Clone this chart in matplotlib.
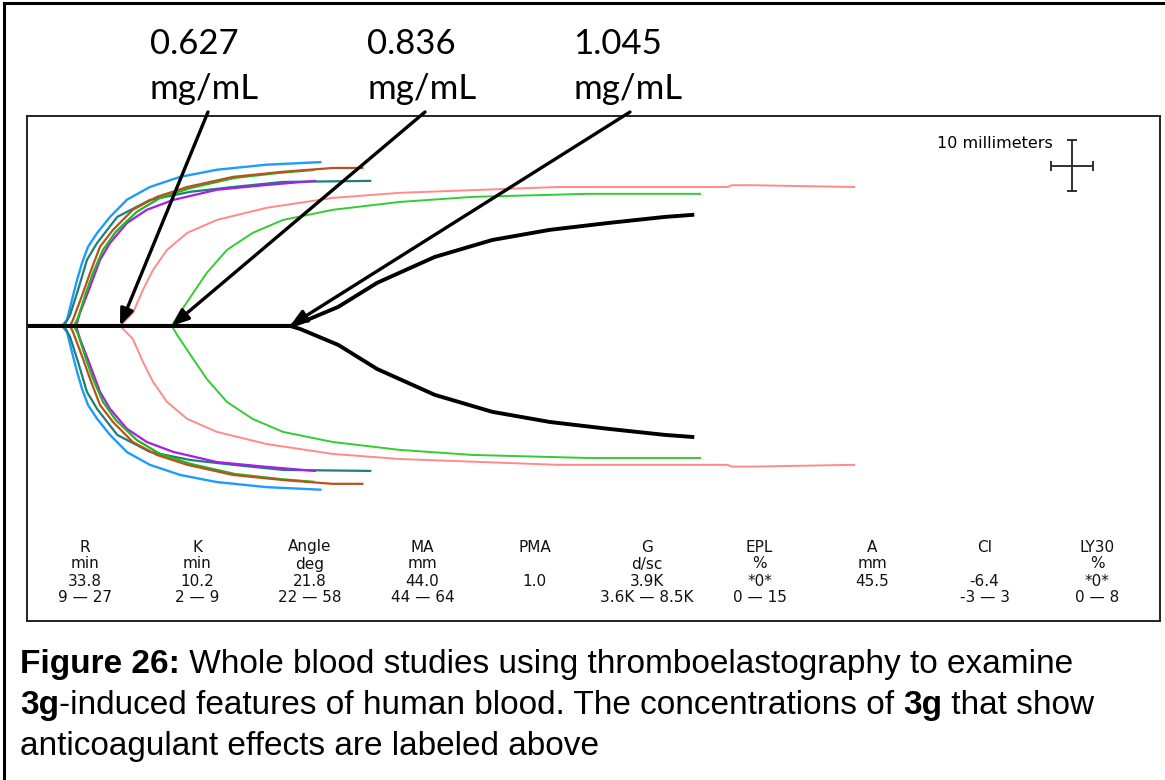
import matplotlib
matplotlib.use('Agg')
import matplotlib.pyplot as plt
from matplotlib.lines import Line2D
import numpy as np

blue_t = [0, 4.5, 5.14, 5.78, 6.43, 7.07, 7.84, 9.0, 10.67, 12.85, 15.8, 19.7, 24.4, 30.8, 37.7]
blue_a = [0, 0, 2.4, 10.3, 18.1, 24.8, 31.2, 36.6, 43.0, 49.8, 54.8, 58.8, 61.6, 63.6, 64.6]

brown_t = [0, 5.53, 5.91, 7.2, 8.1, 9.38, 11.05, 13.6, 16.7, 20.6, 26.5, 32.9, 39.3, 43.1]
brown_a = [0, 0, 2.4, 13.0, 20.9, 31.2, 37.9, 45.8, 50.9, 54.8, 58.8, 60.8, 62.3, 62.3]

green_t = [0, 6.04, 6.56, 7.58, 8.48, 9.77, 11.4, 14.1, 17.1, 21.0, 26.7, 32.5, 36.8]
green_a = [0, 0, 3.2, 13.0, 20.9, 30.0, 37.1, 45.0, 50.5, 54.4, 58.4, 60.4, 61.5]

purple_t = [0, 6.3, 6.81, 8.1, 9.38, 10.67, 12.85, 15.4, 18.8, 24.4, 30.8, 37.0]
purple_a = [0, 0, 5.1, 15.4, 26.0, 32.7, 40.6, 45.8, 49.7, 53.7, 55.6, 57.2]

teal_t = [0, 4.76, 5.53, 6.56, 7.7, 9.0, 11.6, 15.8, 21.0, 26.5, 32.9, 44.1]
teal_a = [0, 0, 4.3, 14.2, 26.0, 32.7, 43.0, 49.7, 52.9, 54.8, 56.8, 57.2]

# 0.627 mg/mL
pink_t = [0, 11.95, 13.6, 14.9, 16.2, 18.0, 20.6, 24.4, 30.8, 39.3, 47.9, 68.3, 90.0, 90.6, 93.0, 106.3]
pink_a = [0, 0, 5.1, 14.2, 22.1, 30.0, 36.7, 41.8, 46.6, 50.5, 52.5, 54.8, 54.8, 55.5, 55.5, 54.8]

# 0.836 mg/mL
lime_t = [0, 18.6, 19.3, 21.0, 23.1, 25.7, 29.0, 32.9, 39.3, 47.9, 57.3, 72.1, 86.5]
lime_a = [0, 0, 3.6, 11.4, 20.9, 30.0, 36.7, 41.8, 45.8, 48.9, 50.9, 52.1, 52.1]

# 1.045 mg/mL
black_t = [0, 33.8, 35.1, 40.0, 45.0, 52.4, 59.8, 67.2, 74.7, 82.0, 85.5]
black_a = [0, 0, 1.2, 7.5, 17.0, 27.2, 33.9, 37.9, 40.6, 43.0, 43.8]

conc_labels = ['0.627\nmg/mL', '0.836\nmg/mL', '1.045\nmg/mL']
conc_r = [11.95, 18.6, 33.8]

# parameter table
par_names = ['R', 'K', 'Angle', 'MA', 'PMA', 'G', 'EPL', 'A', 'CI', 'LY30']
par_units = ['min', 'min', 'deg', 'mm', '', 'd/sc', '%', 'mm', '', '%']
par_values = ['33.8', '10.2', '21.8', '44.0', '1.0', '3.9K', '*0*', '45.5', '-6.4', '*0*']
par_ranges = ['9 \u2014 27', '2 \u2014 9', '22 \u2014 58', '44 \u2014 64', '',
              '3.6K \u2014 8.5K', '0 \u2014 15', '', '-3 \u2014 3', '0 \u2014 8']

W, H = 1165, 780
fig = plt.figure(figsize=(W / 100, H / 100), dpi=100)
fig.patch.set_facecolor('white')

def fx(px):
    return px / W

def fy(py):
    return 1 - py / H

ax = fig.add_axes([fx(27), fy(621), fx(1160) - fx(27), fy(116) - fy(621)])
ax.set_xlim(0, 145.6)
ax.set_ylim(-58.2, 41.4)
ax.set_xticks([])
ax.set_yticks([])
for s in ax.spines.values():
    s.set_color('#222222')
    s.set_linewidth(1.4)

traces = [
    (blue_t, blue_a, '#1e9bff', 1.7),
    (teal_t, teal_a, '#1c7f78', 1.6),
    (purple_t, purple_a, '#a61ee8', 1.6),
    (green_t, green_a, '#1fb81f', 1.6),
    (brown_t, brown_a, '#b8521e', 1.6),
    (pink_t, pink_a, '#ff8a8a', 1.4),
    (lime_t, lime_a, '#33cc33', 1.4),
    (black_t, black_a, 'black', 2.8),
]
for t, a, c, lw in traces:
    half = np.array(a) / 2
    ax.plot(t, half, color=c, lw=lw, solid_joinstyle='round')
    ax.plot(t, -half, color=c, lw=lw, solid_joinstyle='round')

# arrows from the concentration labels to where each trace splits
label_px = [150, 367, 573]
arrow_start = [208, 425, 630]
for lab, lx, sx, r in zip(conc_labels, label_px, arrow_start, conc_r):
    top, bottom = lab.split('\n')
    fig.text(fx(lx), fy(54), top, fontsize=25, family='Lato', va='baseline')
    fig.text(fx(lx), fy(99), bottom, fontsize=25, family='Lato', va='baseline')
    ax.annotate('', xy=(r, 0), xycoords='data',
                xytext=(fx(sx), fy(112)), textcoords='figure fraction',
                annotation_clip=False,
                arrowprops=dict(arrowstyle='-|>,head_length=1.0,head_width=0.4',
                                color='black', lw=2.4, shrinkA=0, shrinkB=0))

# 10 mm scale cross
ax.errorbar([134.3], [31.6], xerr=[2.75], yerr=[5.0], color='#222222',
            lw=1.3, capsize=3.5, capthick=1.3)
fig.text(fx(1053), fy(143), '10 millimeters', fontsize=11.5, ha='right', va='center',
         family='DejaVu Sans')

# parameter table
col_x = np.linspace(85, 1097, len(par_names))
row_y = [547, 564, 581, 598]
for i, x in enumerate(col_x):
    for row, y in zip([par_names, par_units, par_values, par_ranges], row_y):
        fig.text(fx(x), fy(y), row[i], fontsize=11, ha='center', va='center',
                 family='DejaVu Sans', color='#111111')

# outer frame
fig.add_artist(Line2D([fx(4), fx(4)], [fy(3), 0], color='black', lw=2.2))
fig.add_artist(Line2D([fx(4), 1], [fy(3), fy(3)], color='black', lw=2.2))

# caption with bold runs
caption = [
    [('Figure 26:', True), (' Whole blood studies using thromboelastography to examine', False)],
    [('3g', True), ('-induced features of human blood. The concentrations of ', False),
     ('3g', True), (' that show', False)],
    [('anticoagulant effects are labeled above', False)],
]
renderer = fig.canvas.get_renderer()
for line, base in zip(caption, [673, 714, 755]):
    x = fx(20)
    for txt, bold in line:
        t = fig.text(x, fy(base), txt, fontsize=24, family='Liberation Sans',
                     fontweight='bold' if bold else 'normal', va='baseline')
        bb = t.get_window_extent(renderer=renderer)
        x += bb.width / W

fig.savefig('out.png', dpi=100)
